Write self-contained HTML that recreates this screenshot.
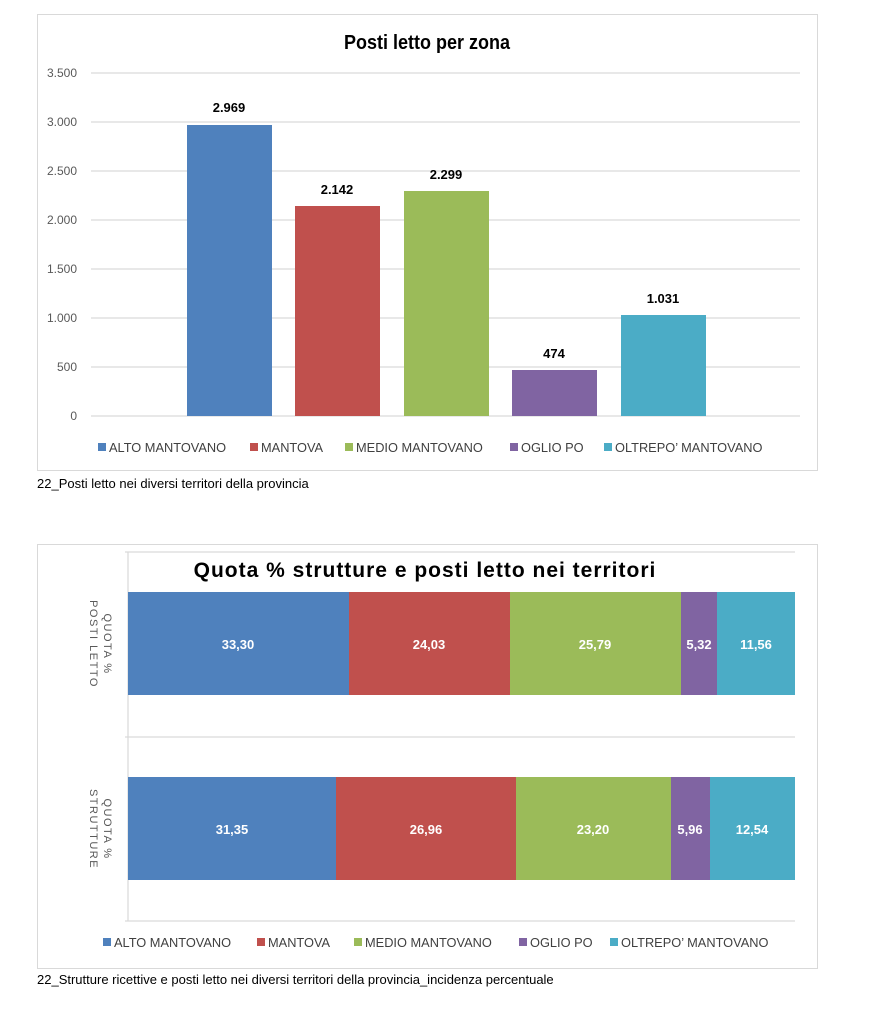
<!DOCTYPE html>
<html><head><meta charset="utf-8"><style>
body{margin:0;background:#fff;width:875px;height:1024px;overflow:hidden}
svg{display:block}
</style></head><body>
<svg width="875" height="1024" viewBox="0 0 875 1024" font-family="Liberation Sans, sans-serif">
<rect x="37.5" y="14.5" width="780" height="456" fill="#fff" stroke="#d9d9d9"/>
<text x="427" y="49" text-anchor="middle" font-size="20" font-weight="bold" fill="#000" transform="translate(427 0) scale(0.9 1) translate(-427 0)">Posti letto per zona</text>
<g stroke="#d9d9d9" stroke-width="1.2">
<line x1="91" x2="800" y1="73" y2="73"/><line x1="91" x2="800" y1="122" y2="122"/>
<line x1="91" x2="800" y1="171" y2="171"/><line x1="91" x2="800" y1="220" y2="220"/>
<line x1="91" x2="800" y1="269" y2="269"/><line x1="91" x2="800" y1="318" y2="318"/>
<line x1="91" x2="800" y1="367" y2="367"/><line x1="91" x2="800" y1="416" y2="416"/>
</g>
<g font-size="12" fill="#595959" text-anchor="end">
<text x="77" y="77">3.500</text><text x="77" y="126">3.000</text><text x="77" y="175">2.500</text>
<text x="77" y="224">2.000</text><text x="77" y="273">1.500</text><text x="77" y="322">1.000</text>
<text x="77" y="371">500</text><text x="77" y="420">0</text>
</g>
<rect x="187" y="125" width="85" height="291" fill="#4f81bd"/>
<rect x="295" y="206" width="85" height="210" fill="#c0504d"/>
<rect x="404" y="191" width="85" height="225" fill="#9bbb59"/>
<rect x="512" y="370" width="85" height="46" fill="#8064a2"/>
<rect x="621" y="315" width="85" height="101" fill="#4bacc6"/>
<g font-size="13" font-weight="bold" text-anchor="middle" fill="#000">
<text x="229" y="112">2.969</text><text x="337" y="194">2.142</text><text x="446" y="179">2.299</text>
<text x="554" y="358">474</text><text x="663" y="303">1.031</text>
</g>
<g font-size="12.8" fill="#404040">
<rect x="98" y="443" width="8" height="8" fill="#4f81bd"/><text x="109" y="452">ALTO MANTOVANO</text>
<rect x="250" y="443" width="8" height="8" fill="#c0504d"/><text x="261" y="452">MANTOVA</text>
<rect x="345" y="443" width="8" height="8" fill="#9bbb59"/><text x="356" y="452">MEDIO MANTOVANO</text>
<rect x="510" y="443" width="8" height="8" fill="#8064a2"/><text x="521" y="452">OGLIO PO</text>
<rect x="604" y="443" width="8" height="8" fill="#4bacc6"/><text x="615" y="452">OLTREPO’ MANTOVANO</text>
</g>
<text x="37" y="488" font-size="13" fill="#000">22_Posti letto nei diversi territori della provincia</text>

<rect x="37.5" y="544.5" width="780" height="424" fill="#fff" stroke="#d9d9d9"/>
<g stroke="#d9d9d9" stroke-width="1.2">
<line x1="125" x2="795" y1="552" y2="552"/><line x1="125" x2="795" y1="737" y2="737"/>
<line x1="125" x2="795" y1="921" y2="921"/><line x1="128" x2="128" y1="552" y2="921"/>
</g>
<text x="425" y="577" text-anchor="middle" font-size="21" font-weight="bold" letter-spacing="1.0" fill="#000">Quota % strutture e posti letto nei territori</text>
<rect x="128" y="592" width="221" height="103" fill="#4f81bd"/>
<rect x="349" y="592" width="161" height="103" fill="#c0504d"/>
<rect x="510" y="592" width="171" height="103" fill="#9bbb59"/>
<rect x="681" y="592" width="36" height="103" fill="#8064a2"/>
<rect x="717" y="592" width="78" height="103" fill="#4bacc6"/>
<rect x="128" y="777" width="208" height="103" fill="#4f81bd"/>
<rect x="336" y="777" width="180" height="103" fill="#c0504d"/>
<rect x="516" y="777" width="155" height="103" fill="#9bbb59"/>
<rect x="671" y="777" width="39" height="103" fill="#8064a2"/>
<rect x="710" y="777" width="85" height="103" fill="#4bacc6"/>
<g font-size="13" font-weight="bold" fill="#fff" text-anchor="middle">
<text x="238" y="649">33,30</text><text x="429" y="649">24,03</text><text x="595" y="649">25,79</text>
<text x="699" y="649">5,32</text><text x="756" y="649">11,56</text>
<text x="232" y="834">31,35</text><text x="426" y="834">26,96</text><text x="593" y="834">23,20</text>
<text x="690" y="834">5,96</text><text x="752" y="834">12,54</text>
</g>
<g font-size="11" fill="#595959" letter-spacing="1.5" text-anchor="middle">
<text transform="translate(104 644) rotate(90)">QUOTA %</text>
<text transform="translate(90 644) rotate(90)">POSTI LETTO</text>
<text transform="translate(104 829) rotate(90)">QUOTA %</text>
<text transform="translate(90 829) rotate(90)">STRUTTURE</text>
</g>
<g font-size="12.8" fill="#404040">
<rect x="103" y="938" width="8" height="8" fill="#4f81bd"/><text x="114" y="947">ALTO MANTOVANO</text>
<rect x="257" y="938" width="8" height="8" fill="#c0504d"/><text x="268" y="947">MANTOVA</text>
<rect x="354" y="938" width="8" height="8" fill="#9bbb59"/><text x="365" y="947">MEDIO MANTOVANO</text>
<rect x="519" y="938" width="8" height="8" fill="#8064a2"/><text x="530" y="947">OGLIO PO</text>
<rect x="610" y="938" width="8" height="8" fill="#4bacc6"/><text x="621" y="947">OLTREPO’ MANTOVANO</text>
</g>
<text x="37" y="984" font-size="13" fill="#000">22_Strutture ricettive e posti letto nei diversi territori della provincia_incidenza percentuale</text>
</svg>
</body></html>
